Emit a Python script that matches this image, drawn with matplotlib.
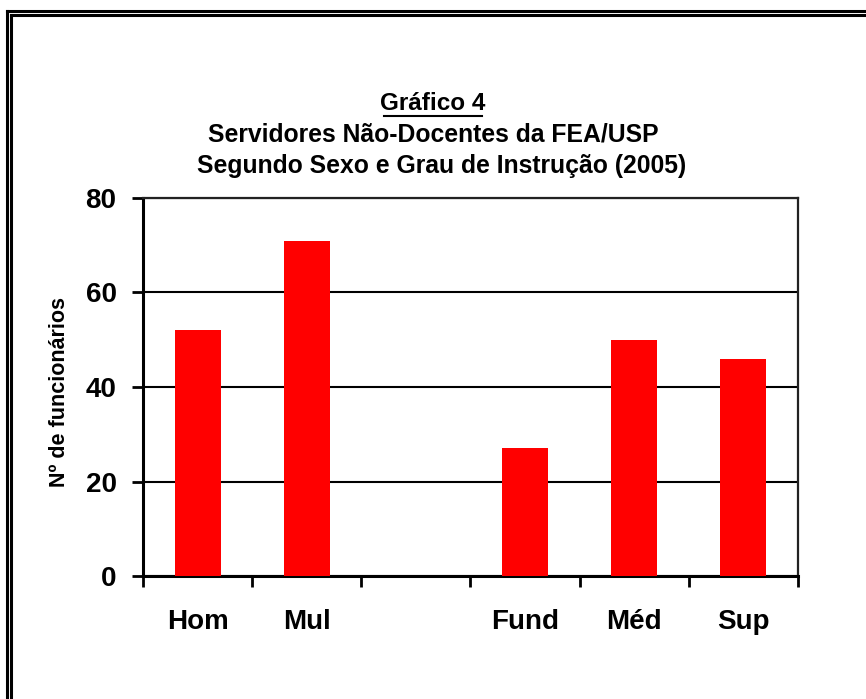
import numpy as np
import matplotlib.pyplot as plt
from matplotlib.lines import Line2D

categories = ["Hom", "Mul", "", "Fund", "Méd", "Sup"]
values = [52, 71, 0, 27, 50, 46]
yticks = [0, 20, 40, 60, 80]

plt.rcParams['font.family'] = ['Liberation Sans', 'DejaVu Sans']

W, H = 866, 699
fig = plt.figure(figsize=(W / 100, H / 100), dpi=100)
ax = fig.add_axes([143 / W, 1 - 576 / H, (798 - 143) / W, (576 - 198) / H])

x = np.arange(len(categories))
ax.bar(x, values, width=0.42, color="#ff0000", zorder=3)

ax.set_xlim(-0.5, len(categories) - 0.5)
ax.set_ylim(0, 80)
ax.set_yticks(yticks)
ax.set_yticklabels([str(v) for v in yticks], fontsize=20, fontweight='bold')
ax.grid(axis='y', color='black', linewidth=1.5, zorder=1)

ax.set_xticks(x)
ax.set_xticklabels(categories, fontsize=20, fontweight='bold')
ax.set_xticks(np.arange(-0.5, len(categories)), minor=True)
ax.tick_params(axis='x', which='major', length=0, pad=24)
ax.tick_params(axis='x', which='minor', length=8, width=2, direction='out')
ax.tick_params(axis='y', length=8, width=2, direction='out', pad=11)

for side in ['left', 'bottom']:
    ax.spines[side].set_linewidth(2.2)
for side in ['top', 'right']:
    ax.spines[side].set_linewidth(1.6)
    ax.spines[side].set_color('#222222')

fig.text(60 / W, 1 - 392 / H, "Nº de funcionários", rotation=90,
         ha='center', va='center', fontsize=15.5, fontweight='bold')

fig.text(433 / W, 1 - 104 / H, "Gráfico 4", ha='center', va='center',
         fontsize=17.5, fontweight='bold')
fig.add_artist(Line2D([384 / W, 482 / W], [1 - 116 / H] * 2,
                      transform=fig.transFigure, color='black', linewidth=1.5))
fig.text(433 / W, 1 - 135 / H, "Servidores Não-Docentes da FEA/USP",
         ha='center', va='center', fontsize=17.8, fontweight='bold')
fig.text(442 / W, 1 - 166 / H, "Segundo Sexo e Grau de Instrução (2005)",
         ha='center', va='center', fontsize=17.8, fontweight='bold')

# double frame (left and top edges only visible)
for xp, yp in [(7, 11), (11, 15)]:
    fig.add_artist(Line2D([xp / W, xp / W], [0, 1 - yp / H],
                          transform=fig.transFigure, color='black', linewidth=2.2))
    fig.add_artist(Line2D([xp / W, 1], [1 - yp / H, 1 - yp / H],
                          transform=fig.transFigure, color='black', linewidth=2.2))

plt.savefig('out.png', dpi=100)
